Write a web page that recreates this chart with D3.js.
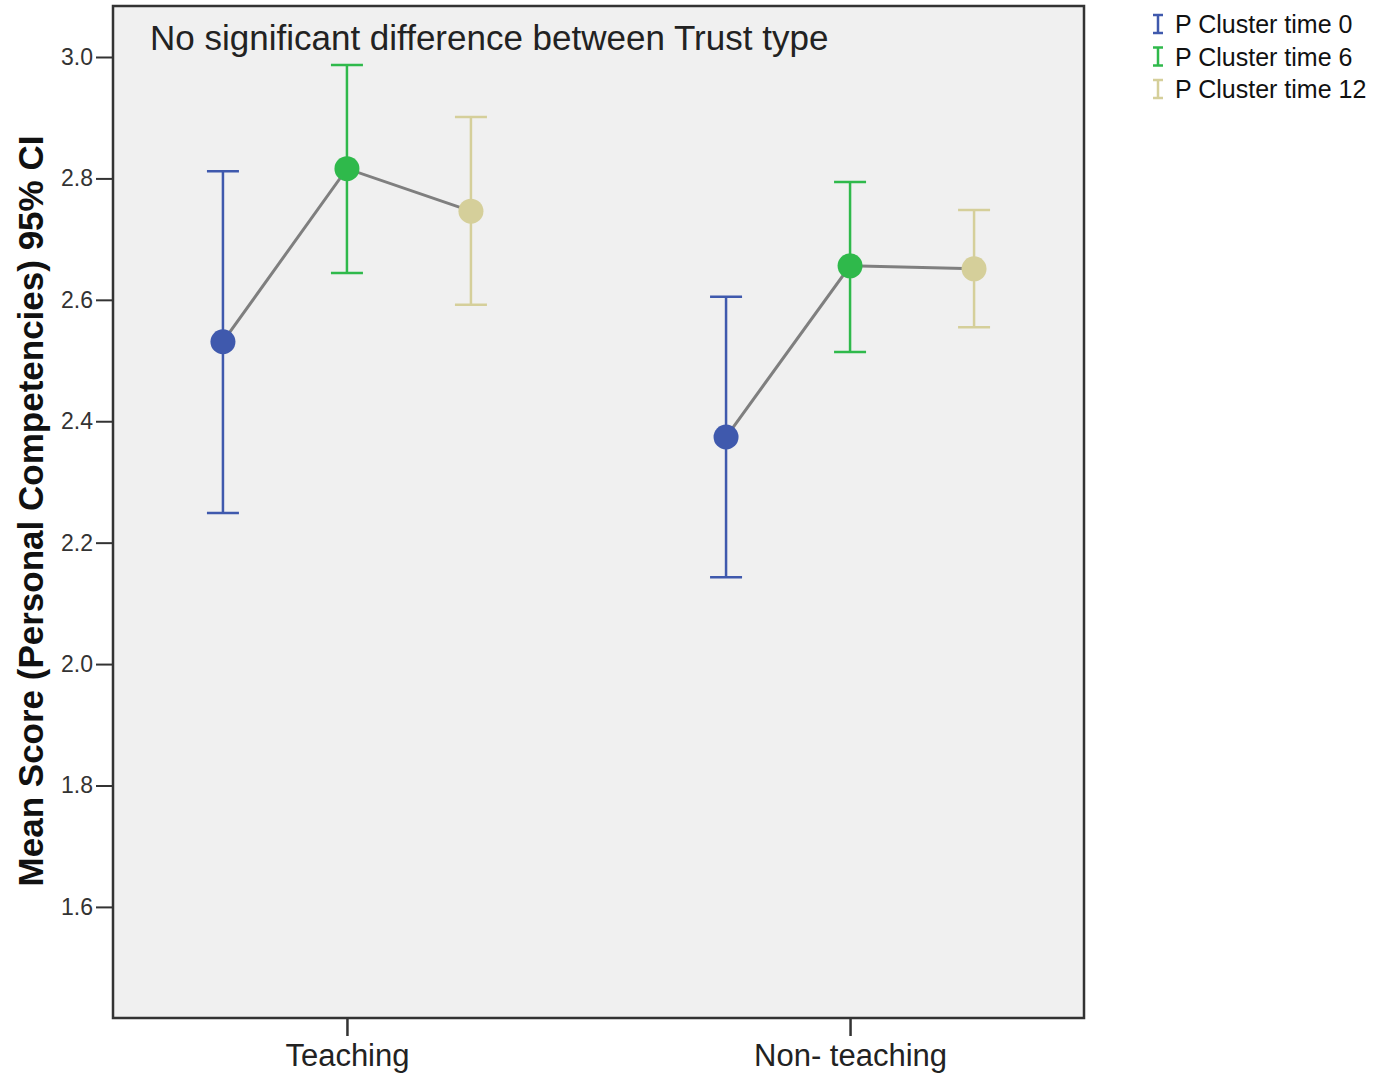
<!DOCTYPE html>
<html>
<head>
<meta charset="utf-8">
<script src="https://cdn.jsdelivr.net/npm/d3@7"></script>
<style>
  body { margin: 0; background: #fff; }
  svg text { font-family: "Liberation Sans", Arial, sans-serif; }
</style>
</head>
<body>
<div id="chart"></div>
<script>
// data
var groups = ["Teaching", "Non- teaching"];
var series = ["P Cluster time 0", "P Cluster time 6", "P Cluster time 12"];
var colors = ["#3f59ad", "#2fb94b", "#d5cf9a"];
var means = [
  [2.531, 2.816, 2.746],
  [2.374, 2.656, 2.651]
];
var lower = [
  [2.249, 2.644, 2.592],
  [2.143, 2.514, 2.555]
];
var upper = [
  [2.812, 2.987, 2.901],
  [2.605, 2.794, 2.748]
];
var yTicks = [1.6, 1.8, 2.0, 2.2, 2.4, 2.6, 2.8, 3.0];

window.onload = () => {
  var W = 1377, H = 1078;
  var margin = { top: 6, right: 293, bottom: 60, left: 113 },
    width = W - margin.left - margin.right,
    height = H - margin.top - margin.bottom;

  var svg = d3.select("#chart").append("svg")
    .attr("width", W)
    .attr("height", H);

  var g = svg.append("g")
    .attr("transform", "translate(" + margin.left + "," + margin.top + ")");

  var x = d3.scalePoint()
    .domain(groups)
    .range([0, width])
    .padding(0.465);

  var xs = d3.scalePoint()
    .domain(series)
    .range([-124, 124]);

  var y = d3.scaleLinear()
    .domain([1.417, 3.084])
    .range([height, 0]);

  // plot background
  g.append("rect")
    .attr("width", width)
    .attr("height", height)
    .attr("fill", "#f0f0f0");

  // title inside the plot
  g.append("text")
    .attr("x", 37)
    .attr("y", 44)
    .attr("font-size", 35)
    .attr("fill", "#222")
    .text("No significant difference between Trust type");

  // connecting lines per group
  var line = d3.line()
    .x((d, i) => xs(series[i]))
    .y(d => y(d));

  groups.forEach(function(grp, gi) {
    var gg = g.append("g")
      .attr("transform", "translate(" + x(grp) + ",0)");

    series.forEach(function(s, si) {
      var cx = xs(s);
      gg.append("line")
        .attr("x1", cx).attr("x2", cx)
        .attr("y1", y(lower[gi][si])).attr("y2", y(upper[gi][si]))
        .attr("stroke", colors[si]).attr("stroke-width", 2.5);
      [lower[gi][si], upper[gi][si]].forEach(function(v) {
        gg.append("line")
          .attr("x1", cx - 16).attr("x2", cx + 16)
          .attr("y1", y(v)).attr("y2", y(v))
          .attr("stroke", colors[si]).attr("stroke-width", 2.5);
      });
    });

    gg.append("path")
      .attr("d", line(means[gi]))
      .attr("fill", "none")
      .attr("stroke", "#7f7f7f")
      .attr("stroke-width", 3);

    series.forEach(function(s, si) {
      gg.append("circle")
        .attr("cx", xs(s))
        .attr("cy", y(means[gi][si]))
        .attr("r", 12.5)
        .attr("fill", colors[si]);
    });
  });

  // frame
  g.append("rect")
    .attr("width", width)
    .attr("height", height)
    .attr("fill", "none")
    .attr("stroke", "#333")
    .attr("stroke-width", 2.5);

  // y axis
  var yAxis = g.append("g")
    .call(d3.axisLeft(y)
      .tickValues(yTicks)
      .tickSize(17)
      .tickPadding(3)
      .tickFormat(d3.format(".1f")));
  yAxis.select(".domain").remove();
  yAxis.selectAll(".tick line").attr("stroke", "#333").attr("stroke-width", 2);
  yAxis.selectAll("text")
    .attr("font-size", 23)
    .attr("fill", "#333")
    .style("font-family", "'Liberation Sans', Arial, sans-serif");

  // x axis
  var xAxis = g.append("g")
    .attr("transform", "translate(0," + height + ")")
    .call(d3.axisBottom(x)
      .tickSize(18)
      .tickPadding(8));
  xAxis.select(".domain").remove();
  xAxis.selectAll(".tick line").attr("stroke", "#333").attr("stroke-width", 2.5);
  xAxis.selectAll("text")
    .attr("font-size", 31)
    .attr("fill", "#222")
    .style("font-family", "'Liberation Sans', Arial, sans-serif");

  // y axis title
  svg.append("text")
    .attr("transform", "translate(43," + (margin.top + 505) + ") rotate(-90)")
    .attr("text-anchor", "middle")
    .attr("font-size", 35)
    .attr("font-weight", "bold")
    .attr("fill", "#111")
    .text("Mean Score (Personal Competencies) 95% CI");

  // legend
  var legend = svg.append("g")
    .attr("transform", "translate(1158,24)");
  series.forEach(function(s, i) {
    var row = legend.append("g")
      .attr("transform", "translate(0," + (i * 32.5) + ")");
    row.append("line")
      .attr("x1", 0).attr("x2", 0).attr("y1", -9).attr("y2", 9)
      .attr("stroke", colors[i]).attr("stroke-width", 2.5);
    row.append("line")
      .attr("x1", -5).attr("x2", 5).attr("y1", -9).attr("y2", -9)
      .attr("stroke", colors[i]).attr("stroke-width", 2.5);
    row.append("line")
      .attr("x1", -5).attr("x2", 5).attr("y1", 9).attr("y2", 9)
      .attr("stroke", colors[i]).attr("stroke-width", 2.5);
    row.append("text")
      .attr("x", 17)
      .attr("y", 9)
      .attr("font-size", 25)
      .attr("fill", "#111")
      .text(s);
  });
};
</script>
</body>
</html>
